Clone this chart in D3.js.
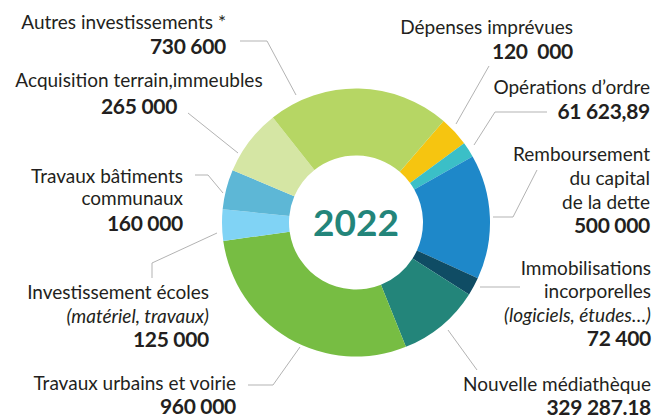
<!DOCTYPE html>
<html><head><meta charset="utf-8">
<script src="https://cdn.jsdelivr.net/npm/d3@7"></script>
<style>
html,body{margin:0;padding:0;background:#fff;}
svg{display:block;font-family:Lato,"Open Sans",sans-serif;}
</style></head>
<body><svg id="chart" width="656" height="418"></svg>
<script>
// ---- data (clockwise order) ----
const categories = ["Dépenses imprévues","Opérations d’ordre","Remboursement du capital de la dette","Immobilisations incorporelles","Nouvelle médiathèque","Travaux urbains et voirie","Investissement écoles","Travaux bâtiments communaux","Acquisition terrain,immeubles","Autres investissements *"];
const values = [120000, 61623.89, 500000, 72400, 329287.18, 960000, 125000, 160000, 265000, 730600];
const valueLabels = ["120  000","61 623,89","500 000","72 400","329 287.18","960 000","125 000","160 000","265 000","730 600"];
const labelLines = [
  [["Dépenses imprévues",0]],
  [["Opérations d’ordre",0]],
  [["Remboursement",0],["du capital",0],["de la dette",0]],
  [["Immobilisations",0],["incorporelles",0],["(logiciels, études…)",1]],
  [["Nouvelle médiathèque",0]],
  [["Travaux urbains et voirie",0]],
  [["Investissement écoles",0],["(matériel, travaux)",1]],
  [["Travaux bâtiments",0],["communaux",0]],
  [["Acquisition terrain,immeubles",0]],
  [["Autres investissements *",0]]
];
const centerTitle = "2022";

// ---- styling / layout ----
const colors = ["#f6c510","#3bbfc7","#1e88c9","#0f4c64","#23857a","#77bd43","#80d3f5","#5db7d6","#d5e6a4","#b6d664"];
const cx = 356, cy = 222.5, R = 134, r = 67;
const startDeg = 40.8;
// label layout: anchor, x, baselines (text lines then value), leader polyline
const layout = [
  {anchor:"end", x:573, ys:[34,59], leader:[[489,66],[456,124]]},
  {anchor:"end", x:650, ys:[94,119], leader:[[547,112],[495,112],[474,145]]},
  {anchor:"end", x:650, ys:[161,185,209,233], leader:[[537,170],[513,217],[493,217]]},
  {anchor:"end", x:651, ys:[275,298,322,346], leader:[[520,287],[480,287]]},
  {anchor:"end", x:651, ys:[391,415], leader:[[477,370],[448,330]]},
  {anchor:"end", x:236, ys:[390,414], leader:[[248,385],[273,385],[300,347]]},
  {anchor:"end", x:209, ys:[299,323,347], leader:[[152,278],[152,263],[217,233]]},
  {anchor:"end", x:183, ys:[183,205,231], leader:[[195,175],[208,175],[223,193]]},
  {anchor:"middle", x:139, ys:[87,114], leader:[[188,113],[238,153]]},
  {anchor:"end", x:226, ys:[29,54], leader:[[240,41],[267,41],[296,95]]}
];

const svg = d3.select("#chart");
const pie = d3.pie().sort(null).value(d=>d)
  .startAngle(startDeg*Math.PI/180).endAngle(startDeg*Math.PI/180 + 2*Math.PI);
const arc = d3.arc().innerRadius(r).outerRadius(R);
const g = svg.append("g").attr("transform",`translate(${cx},${cy})`);
g.selectAll("path").data(pie(values)).join("path")
  .attr("d",arc).attr("fill",(d,i)=>colors[i]);

g.append("text").attr("text-anchor","middle").attr("y",13)
  .attr("font-size",37).attr("font-weight",700).attr("fill","#23857a")
  .text(centerTitle);

// leader lines
const line = d3.line();
svg.append("g").selectAll("path").data(layout).join("path")
  .attr("d",d=>line(d.leader)).attr("fill","none")
  .attr("stroke","#b3b3b3").attr("stroke-width",1);

// labels
const lg = svg.append("g").attr("fill","#231f20");
layout.forEach((L,i)=>{
  labelLines[i].forEach((ln,j)=>{
    lg.append("text").attr("x",L.x).attr("y",L.ys[j]).attr("text-anchor",L.anchor)
      .attr("font-size",19).attr("font-style",ln[1]?"italic":"normal")
      .text(ln[0]);
  });
  lg.append("text").attr("x",L.x).attr("y",L.ys[L.ys.length-1]).attr("text-anchor",L.anchor)
    .attr("font-size",21).attr("font-weight",700).attr("letter-spacing",-0.3).style("white-space","pre")
    .text(valueLabels[i]);
});
</script></body></html>
